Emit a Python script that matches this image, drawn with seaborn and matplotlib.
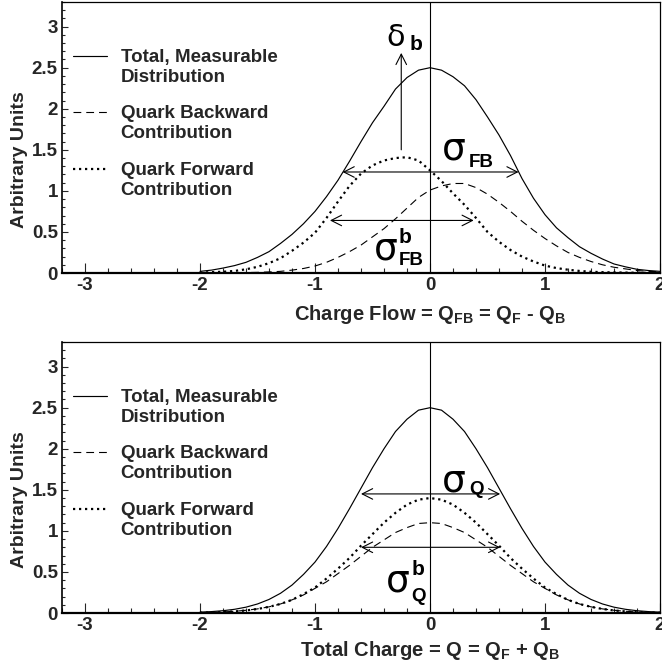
import numpy as np
import matplotlib
matplotlib.use("Agg")
import matplotlib.pyplot as plt
import seaborn as sns
from matplotlib.lines import Line2D
from matplotlib.legend_handler import HandlerLine2D
from matplotlib.ticker import MultipleLocator, FixedLocator

# ---------------- data ----------------
x_vals = [-2.0, -1.9, -1.8, -1.7, -1.6, -1.5, -1.4, -1.3, -1.2, -1.1,
          -1.0, -0.9, -0.8, -0.7, -0.6, -0.5, -0.4, -0.3, -0.2, -0.1,
          0.0, 0.1, 0.2, 0.3, 0.4, 0.5, 0.6, 0.7, 0.8, 0.9,
          1.0, 1.1, 1.2, 1.3, 1.4, 1.5, 1.6, 1.7, 1.8, 1.9, 2.0]

# top panel: charge flow
flow_total = [0.02, 0.035, 0.06, 0.09, 0.13, 0.19, 0.26, 0.36, 0.47, 0.60,
              0.75, 0.93, 1.13, 1.36, 1.60, 1.83, 2.03, 2.24, 2.38, 2.47,
              2.50, 2.47, 2.39, 2.28, 2.11, 1.90, 1.68, 1.43, 1.15, 0.91,
              0.71, 0.55, 0.43, 0.32, 0.24, 0.17, 0.11, 0.075, 0.045, 0.03, 0.02]
flow_backward = [0.001, 0.001, 0.002, 0.003, 0.005, 0.008, 0.013, 0.02, 0.035, 0.055,
                 0.085, 0.13, 0.19, 0.26, 0.34, 0.44, 0.54, 0.66, 0.79, 0.92,
                 1.01, 1.06, 1.09, 1.09, 1.04, 0.96, 0.86, 0.75, 0.63, 0.52,
                 0.42, 0.33, 0.25, 0.19, 0.14, 0.10, 0.07, 0.05, 0.03, 0.02, 0.015]
flow_forward = [0.005, 0.01, 0.015, 0.025, 0.045, 0.075, 0.12, 0.18, 0.27, 0.37,
                0.49, 0.67, 0.87, 1.06, 1.21, 1.31, 1.37, 1.40, 1.41, 1.37,
                1.25, 1.12, 0.97, 0.83, 0.67, 0.50, 0.38, 0.28, 0.20, 0.14,
                0.09, 0.06, 0.04, 0.025, 0.015, 0.01, 0.007, 0.005, 0.003, 0.002, 0.001]

# bottom panel: total charge
charge_total = [0.01, 0.017, 0.028, 0.045, 0.071, 0.11, 0.165, 0.24, 0.34, 0.47,
                0.62, 0.81, 1.03, 1.27, 1.52, 1.77, 2.00, 2.21, 2.36, 2.47,
                2.50, 2.47, 2.36, 2.21, 2.00, 1.77, 1.52, 1.27, 1.03, 0.81,
                0.62, 0.47, 0.34, 0.24, 0.165, 0.11, 0.071, 0.045, 0.028, 0.017, 0.01]
charge_backward = [0.005, 0.008, 0.013, 0.021, 0.033, 0.05, 0.075, 0.11, 0.16, 0.22,
                   0.30, 0.38, 0.48, 0.58, 0.69, 0.80, 0.89, 0.98, 1.04, 1.09,
                   1.10, 1.09, 1.04, 0.98, 0.89, 0.80, 0.69, 0.58, 0.48, 0.38,
                   0.30, 0.22, 0.16, 0.11, 0.075, 0.05, 0.033, 0.021, 0.013, 0.008, 0.005]
charge_forward = [0.004, 0.006, 0.011, 0.019, 0.031, 0.049, 0.075, 0.11, 0.16, 0.23,
                  0.31, 0.42, 0.54, 0.67, 0.82, 0.96, 1.10, 1.22, 1.32, 1.38,
                  1.40, 1.38, 1.32, 1.22, 1.10, 0.96, 0.82, 0.67, 0.54, 0.42,
                  0.31, 0.23, 0.16, 0.11, 0.075, 0.049, 0.031, 0.019, 0.011, 0.006, 0.004]

legend_labels = ["Total, Measurable\nDistribution",
                 "Quark Backward\nContribution",
                 "Quark Forward\nContribution"]
x_ticks = [-3, -2, -1, 0, 1, 2]
x_ticklabels = ["-3", "-2", "-1", "0", "1", "2"]
y_ticks = [0, 0.5, 1, 1.5, 2, 2.5, 3]
y_ticklabels = ["0", "0.5", "1", "1.5", "2", "2.5", "3"]
top_xlabel = r"Charge Flow = Q$_{\mathrm{FB}}$ = Q$_{\mathrm{F}}$ - Q$_{\mathrm{B}}$"
bottom_xlabel = r"Total Charge = Q = Q$_{\mathrm{F}}$ + Q$_{\mathrm{B}}$"
ylabel = "Arbitrary Units"

# annotation arrows (x0, x1, y) and (x, y0, y1)
sigma_fb = (-0.76, 0.77, 1.23)
sigma_fb_b = (-0.87, 0.38, 0.64)
delta_b = (-0.25, 1.50, 2.68)
sigma_q = (-0.60, 0.61, 1.45)
sigma_q_b = (-0.60, 0.61, 0.80)

# ---------------- style ----------------
sns.set_style("white")
plt.rcParams["font.family"] = ["Liberation Sans", "DejaVu Sans"]
plt.rcParams["font.weight"] = "bold"
plt.rcParams["mathtext.fontset"] = "custom"
plt.rcParams["mathtext.rm"] = "Liberation Sans:bold"
plt.rcParams["mathtext.bf"] = "Liberation Sans:bold"
plt.rcParams["mathtext.it"] = "Liberation Sans:bold"

FS = 13.5
W, H = 662, 670
fig = plt.figure(figsize=(W / 100, H / 100), dpi=100)
fig.patch.set_facecolor("white")

ax1 = fig.add_axes([62 / W, 1 - 273 / H, 598 / W, 271 / H])
ax2 = fig.add_axes([62 / W, 1 - 613 / H, 598 / W, 271 / H])

solid_kw = dict(color="black", lw=0.85)
dash_kw = dict(color="black", lw=0.8, dashes=(7, 4.5))
dot_kw = dict(color="black", lw=1.6, dashes=(1, 1.7))


class TopAligned(HandlerLine2D):
    def create_artists(self, legend, orig_handle, xdescent, ydescent,
                       width, height, fontsize, trans):
        arts = super().create_artists(legend, orig_handle, xdescent, ydescent,
                                      width, height, fontsize, trans)
        for a in arts:
            a.set_ydata(np.asarray(a.get_ydata(), dtype=float) + 0.62 * fontsize)
        return arts


def arrow(ax, p0, p1, style):
    ax.annotate("", xy=p1, xytext=p0,
                arrowprops=dict(arrowstyle=style + ",head_length=0.75,head_width=0.38",
                                color="black", lw=0.8, shrinkA=0, shrinkB=0,
                                mutation_scale=10))


def style_axes(ax, xlabel, xlabel_y):
    ax.set_xlim(-3.2, 2.0)
    ax.set_ylim(0, 3.3)
    ax.axvline(0, color="black", lw=0.8, zorder=1)
    ax.xaxis.set_major_locator(FixedLocator(x_ticks))
    ax.set_xticklabels(x_ticklabels)
    ax.xaxis.set_minor_locator(MultipleLocator(0.2))
    ax.yaxis.set_major_locator(FixedLocator(y_ticks))
    ax.set_yticklabels(y_ticklabels)
    ax.yaxis.set_minor_locator(MultipleLocator(0.1))
    ax.tick_params(axis="x", which="major", direction="in", length=7, width=0.8,
                   labelsize=FS, pad=3, bottom=True, top=False)
    ax.tick_params(axis="x", which="minor", direction="in", length=3.5, width=0.8,
                   bottom=True, top=False)
    ax.tick_params(axis="y", which="major", direction="in", length=4, width=0.8,
                   labelsize=FS, pad=3, left=True, right=False)
    ax.tick_params(axis="y", which="minor", direction="in", length=2.2, width=0.8,
                   left=True, right=False)
    for lab in ax.get_xticklabels() + ax.get_yticklabels():
        lab.set_fontweight("bold")
    for s in ax.spines.values():
        s.set_color("black")
        s.set_linewidth(0.9)
    ax.spines["bottom"].set_linewidth(1.6)
    ax.spines["left"].set_linewidth(1.2)
    ax.set_xlabel(xlabel, fontsize=14.5, fontweight="bold")
    ax.xaxis.set_label_coords(0.615, xlabel_y)
    ax.xaxis.label.set_verticalalignment("top")
    ax.set_ylabel(ylabel, fontsize=FS + 0.5, fontweight="bold")
    ax.yaxis.set_label_coords(-0.057, 0.42)
    handles = [Line2D([], [], **solid_kw), Line2D([], [], **dash_kw),
               Line2D([], [], **dot_kw)]
    leg = ax.legend(handles, legend_labels, loc="upper left",
                    bbox_to_anchor=(0.018, 0.827), frameon=False,
                    prop={"size": FS, "weight": "bold"},
                    handlelength=1.85, handletextpad=0.7, borderpad=0,
                    borderaxespad=0, labelspacing=1.05,
                    handler_map={Line2D: TopAligned()})
    for t in leg.get_texts():
        t.set_linespacing(1.22)


# ---------------- top panel ----------------
sns.lineplot(x=x_vals, y=flow_total, ax=ax1, estimator=None, sort=False, **solid_kw)
sns.lineplot(x=x_vals, y=flow_backward, ax=ax1, estimator=None, sort=False, **dash_kw)
sns.lineplot(x=x_vals, y=flow_forward, ax=ax1, estimator=None, sort=False, **dot_kw)
style_axes(ax1, top_xlabel, -0.112)

arrow(ax1, (sigma_fb[0], sigma_fb[2]), (sigma_fb[1], sigma_fb[2]), "<->")
arrow(ax1, (sigma_fb_b[0], sigma_fb_b[2]), (sigma_fb_b[1], sigma_fb_b[2]), "<->")
arrow(ax1, (delta_b[0], delta_b[1]), (delta_b[0], delta_b[2]), "->")

sym = dict(family="DejaVu Sans", fontweight="normal", color="black")
sub = dict(family=["Liberation Sans", "DejaVu Sans"], fontweight="bold", color="black")

ax1.text(-0.38, 2.77, "δ", fontsize=22, va="baseline", ha="left", **sym)
ax1.text(-0.18, 2.72, "b", fontsize=15, va="baseline", ha="left", **sub)
ax1.text(0.10, 1.38, "σ", fontsize=27, va="baseline", ha="left", **sym)
ax1.text(0.34, 1.29, "FB", fontsize=13.5, va="baseline", ha="left", **sub)
ax1.text(-0.49, 0.16, "σ", fontsize=27, va="baseline", ha="left", **sym)
ax1.text(-0.27, 0.36, "b", fontsize=15, va="baseline", ha="left", **sub)
ax1.text(-0.27, 0.10, "FB", fontsize=13.5, va="baseline", ha="left", **sub)

# ---------------- bottom panel ----------------
sns.lineplot(x=x_vals, y=charge_total, ax=ax2, estimator=None, sort=False, **solid_kw)
sns.lineplot(x=x_vals, y=charge_backward, ax=ax2, estimator=None, sort=False, **dash_kw)
sns.lineplot(x=x_vals, y=charge_forward, ax=ax2, estimator=None, sort=False, **dot_kw)
style_axes(ax2, bottom_xlabel, -0.095)

arrow(ax2, (sigma_q[0], sigma_q[2]), (sigma_q[1], sigma_q[2]), "<->")
arrow(ax2, (sigma_q_b[0], sigma_q_b[2]), (sigma_q_b[1], sigma_q_b[2]), "<->")

ax2.text(0.10, 1.48, "σ", fontsize=27, va="baseline", ha="left", **sym)
ax2.text(0.34, 1.45, "Q", fontsize=13.5, va="baseline", ha="left", **sub)
ax2.text(-0.38, 0.26, "σ", fontsize=27, va="baseline", ha="left", **sym)
ax2.text(-0.16, 0.46, "b", fontsize=15, va="baseline", ha="left", **sub)
ax2.text(-0.16, 0.15, "Q", fontsize=13.5, va="baseline", ha="left", **sub)

fig.savefig("out.png", dpi=100, facecolor="white")
